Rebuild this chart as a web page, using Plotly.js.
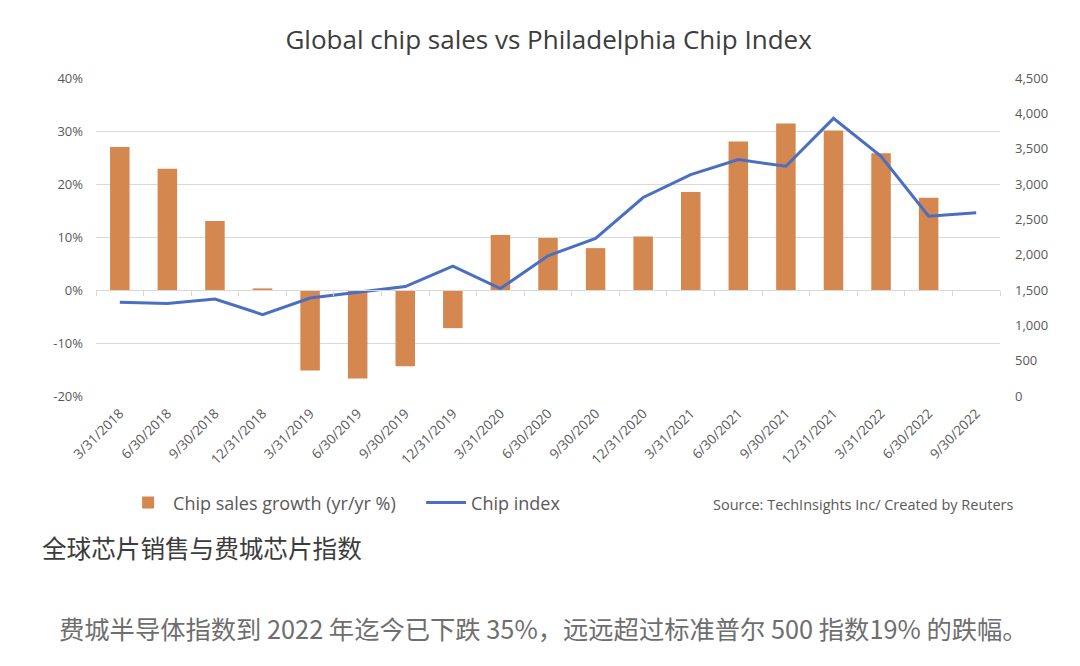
<!DOCTYPE html>
<html>
<head>
<meta charset="utf-8">
<script src="https://cdn.plot.ly/plotly-3.0.1.min.js"></script>
<style>
  html, body { margin: 0; padding: 0; background: #fff; }
  #chart { width: 1080px; height: 666px; }
</style>
</head>
<body>
<div id="chart"></div>
<script>
// quarter ends
const quarters = [
  '3/31/2018', '6/30/2018', '9/30/2018', '12/31/2018',
  '3/31/2019', '6/30/2019', '9/30/2019', '12/31/2019',
  '3/31/2020', '6/30/2020', '9/30/2020', '12/31/2020',
  '3/31/2021', '6/30/2021', '9/30/2021', '12/31/2021',
  '3/31/2022', '6/30/2022', '9/30/2022'
];

// chip sales growth, yr/yr % (no value yet for the last quarter)
const salesGrowth = [
  27.0, 22.9, 13.0, 0.3,
  -15.2, -16.7, -14.4, -7.2,
  10.4, 9.8, 7.9, 10.1,
  18.5, 28.0, 31.4, 30.1,
  25.8, 17.4, null
];

// Philadelphia chip index
const chipIndex = [
  1326, 1308, 1373, 1152,
  1387, 1463, 1548, 1839,
  1520, 1985, 2230, 2809,
  3134, 3346, 3251, 3929,
  3393, 2545, 2593
];

const leftTicks = [-20, -10, 0, 10, 20, 30, 40];
const leftTickText = ['-20%', '-10%', '0%', '10%', '20%', '30%', '40%'];
const rightTicks = [0, 500, 1000, 1500, 2000, 2500, 3000, 3500, 4000, 4500];
const rightTickText = ['0', '500', '1,000', '1,500', '2,000', '2,500', '3,000', '3,500', '4,000', '4,500'];

const titleText = 'Global chip sales vs Philadelphia Chip Index';
const sourceText = 'Source: TechInsights Inc/ Created by Reuters';
const captionText = '全球芯片销售与费城芯片指数';
const noteText = '费城半导体指数到 2022 年迄今已下跌 35%，远远超过标准普尔 500 指数19% 的跌幅。';

const latin = '"Open Sans", "Noto Sans", sans-serif';
const cjk = '"Noto Sans CJK SC", "Noto Sans", sans-serif';
const grey = '#595959';

const bars = {
  type: 'bar',
  name: 'Chip sales growth (yr/yr %)',
  x: quarters,
  y: salesGrowth,
  marker: { color: '#d4874f' },
  xaxis: 'x',
  yaxis: 'y',
  hoverinfo: 'x+y'
};

const line = {
  type: 'scatter',
  mode: 'lines',
  name: 'Chip index',
  x: quarters,
  y: chipIndex,
  line: { color: '#4a6fc2', width: 3 },
  xaxis: 'x2',
  yaxis: 'y2',
  hoverinfo: 'x+y'
};

const catRange = [-0.5, quarters.length - 0.5];

const layout = {
  width: 1080,
  height: 666,
  margin: { l: 96, r: 80, t: 78, b: 270 },
  paper_bgcolor: '#fff',
  plot_bgcolor: '#fff',
  bargap: 0.59,
  showlegend: true,
  title: {
    text: titleText,
    font: { family: latin, size: 26, color: '#3d3d3d' },
    xref: 'container', x: 0.508, xanchor: 'center',
    yref: 'container', y: 0.94, yanchor: 'middle'
  },
  xaxis: {
    type: 'category',
    categoryorder: 'array',
    categoryarray: quarters,
    range: catRange,
    tickangle: -45,
    tickfont: { family: latin, size: 13.5, color: grey },
    ticks: '',
    ticklabelstandoff: 6,
    showgrid: false,
    showline: false,
    zeroline: false,
    fixedrange: true
  },
  // category axis drawn along the 0% line, with tick marks between quarters
  xaxis2: {
    type: 'category',
    categoryorder: 'array',
    categoryarray: quarters,
    range: catRange,
    overlaying: 'x',
    anchor: 'free',
    position: 1 / 3,
    showticklabels: false,
    ticks: 'outside',
    tickson: 'boundaries',
    ticklen: 5,
    tickcolor: '#d9d9d9',
    showline: true,
    linecolor: '#d9d9d9',
    showgrid: false,
    zeroline: false,
    fixedrange: true
  },
  yaxis: {
    range: [-20, 40],
    tickvals: leftTicks,
    ticktext: leftTickText,
    tickfont: { family: latin, size: 13, color: grey },
    gridcolor: '#d9d9d9',
    gridwidth: 1,
    zeroline: false,
    ticks: '',
    ticklabelstandoff: 12,
    fixedrange: true
  },
  yaxis2: {
    range: [0, 4500],
    overlaying: 'y',
    side: 'right',
    anchor: 'x2',
    tickvals: rightTicks,
    ticktext: rightTickText,
    tickfont: { family: latin, size: 13, color: grey },
    showgrid: false,
    zeroline: false,
    ticks: '',
    ticklabelstandoff: 14,
    fixedrange: true
  },
  legend: {
    orientation: 'h',
    x: 0.03, xanchor: 'left',
    y: -0.336, yanchor: 'middle',
    font: { family: latin, size: 18, color: grey },
    itemwidth: 40,
    entrywidth: 243,
    entrywidthmode: 'pixels',
    bgcolor: 'rgba(0,0,0,0)'
  },
  annotations: [
    {
      text: sourceText,
      xref: 'paper', yref: 'paper',
      x: 1.018, y: -0.342, xanchor: 'right', yanchor: 'middle',
      showarrow: false,
      font: { family: latin, size: 14.5, color: grey }
    },
    {
      text: captionText,
      xref: 'paper', yref: 'paper',
      x: -0.062, y: -0.475, xanchor: 'left', yanchor: 'middle',
      showarrow: false,
      font: { family: cjk, size: 24.6, color: '#3c3c3c' }
    },
    {
      text: noteText,
      xref: 'paper', yref: 'paper',
      x: 0.495, y: -0.73, xanchor: 'center', yanchor: 'middle',
      showarrow: false,
      font: { family: cjk, size: 25.3, color: '#6e6e6e' }
    }
  ]
};

Plotly.newPlot('chart', [bars, line], layout, { displayModeBar: false, staticPlot: true });
</script>
</body>
</html>
